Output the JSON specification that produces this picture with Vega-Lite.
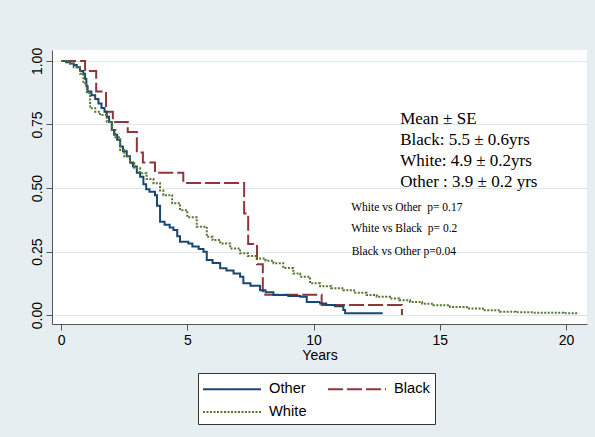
{
  "$schema": "https://vega.github.io/schema/vega-lite/v6.json",
  "width": 535,
  "height": 274,
  "autosize": {"type": "none"},
  "padding": {"left": 52, "top": 50, "right": 8, "bottom": 113},
  "background": "#e6eef1",
  "config": {
    "view": {"fill": "white", "stroke": null},
    "font": "Liberation Sans"
  },
  "layer": [
    {
      "data": {
        "values": [
          {"group": "Black", "t": 0, "s": 1.0},
          {"group": "Black", "t": 0.95, "s": 0.96},
          {"group": "Black", "t": 1.39, "s": 0.88},
          {"group": "Black", "t": 1.78, "s": 0.8},
          {"group": "Black", "t": 2.05, "s": 0.76},
          {"group": "Black", "t": 2.64, "s": 0.72},
          {"group": "Black", "t": 3.0, "s": 0.64},
          {"group": "Black", "t": 3.24, "s": 0.6},
          {"group": "Black", "t": 3.72, "s": 0.56},
          {"group": "Black", "t": 4.84, "s": 0.52},
          {"group": "Black", "t": 7.25, "s": 0.4},
          {"group": "Black", "t": 7.41, "s": 0.28},
          {"group": "Black", "t": 7.76, "s": 0.2},
          {"group": "Black", "t": 7.99, "s": 0.08},
          {"group": "Black", "t": 10.32, "s": 0.04},
          {"group": "Black", "t": 13.5, "s": 0.0},

          {"group": "Other", "t": 0, "s": 1.0},
          {"group": "Other", "t": 0.2, "s": 0.995},
          {"group": "Other", "t": 0.35, "s": 0.99},
          {"group": "Other", "t": 0.5, "s": 0.984},
          {"group": "Other", "t": 0.62, "s": 0.975},
          {"group": "Other", "t": 0.75, "s": 0.96},
          {"group": "Other", "t": 0.88, "s": 0.95},
          {"group": "Other", "t": 0.95, "s": 0.93},
          {"group": "Other", "t": 1.0, "s": 0.9},
          {"group": "Other", "t": 1.05, "s": 0.88},
          {"group": "Other", "t": 1.2, "s": 0.865},
          {"group": "Other", "t": 1.35, "s": 0.85},
          {"group": "Other", "t": 1.48, "s": 0.833},
          {"group": "Other", "t": 1.6, "s": 0.815},
          {"group": "Other", "t": 1.72, "s": 0.8},
          {"group": "Other", "t": 1.81, "s": 0.78},
          {"group": "Other", "t": 1.9, "s": 0.76},
          {"group": "Other", "t": 2.01, "s": 0.728},
          {"group": "Other", "t": 2.1, "s": 0.71},
          {"group": "Other", "t": 2.22, "s": 0.69},
          {"group": "Other", "t": 2.34, "s": 0.663},
          {"group": "Other", "t": 2.45, "s": 0.645},
          {"group": "Other", "t": 2.6, "s": 0.625},
          {"group": "Other", "t": 2.73, "s": 0.6},
          {"group": "Other", "t": 2.85, "s": 0.585},
          {"group": "Other", "t": 3.0, "s": 0.56},
          {"group": "Other", "t": 3.13, "s": 0.544},
          {"group": "Other", "t": 3.26, "s": 0.515},
          {"group": "Other", "t": 3.37, "s": 0.495},
          {"group": "Other", "t": 3.5, "s": 0.485},
          {"group": "Other", "t": 3.72, "s": 0.472},
          {"group": "Other", "t": 3.8, "s": 0.43},
          {"group": "Other", "t": 3.92, "s": 0.367},
          {"group": "Other", "t": 4.1, "s": 0.355},
          {"group": "Other", "t": 4.3, "s": 0.345},
          {"group": "Other", "t": 4.45, "s": 0.335},
          {"group": "Other", "t": 4.6, "s": 0.31},
          {"group": "Other", "t": 4.71, "s": 0.289},
          {"group": "Other", "t": 5.04, "s": 0.282},
          {"group": "Other", "t": 5.2, "s": 0.27},
          {"group": "Other", "t": 5.45, "s": 0.26},
          {"group": "Other", "t": 5.64, "s": 0.249},
          {"group": "Other", "t": 5.77, "s": 0.217},
          {"group": "Other", "t": 6.0, "s": 0.205},
          {"group": "Other", "t": 6.3, "s": 0.184},
          {"group": "Other", "t": 6.55, "s": 0.175},
          {"group": "Other", "t": 6.83, "s": 0.164},
          {"group": "Other", "t": 7.09, "s": 0.151},
          {"group": "Other", "t": 7.22, "s": 0.125},
          {"group": "Other", "t": 7.5, "s": 0.115},
          {"group": "Other", "t": 7.88, "s": 0.098},
          {"group": "Other", "t": 8.1, "s": 0.09},
          {"group": "Other", "t": 8.41, "s": 0.079},
          {"group": "Other", "t": 9.0, "s": 0.075},
          {"group": "Other", "t": 9.47, "s": 0.072},
          {"group": "Other", "t": 9.73, "s": 0.052},
          {"group": "Other", "t": 10.26, "s": 0.046},
          {"group": "Other", "t": 10.5, "s": 0.04},
          {"group": "Other", "t": 10.85, "s": 0.035},
          {"group": "Other", "t": 11.18, "s": 0.02},
          {"group": "Other", "t": 11.25, "s": 0.007},
          {"group": "Other", "t": 12.74, "s": 0.007},

          {"group": "White", "t": 0, "s": 1.0},
          {"group": "White", "t": 0.3, "s": 0.99},
          {"group": "White", "t": 0.5, "s": 0.975},
          {"group": "White", "t": 0.75, "s": 0.95},
          {"group": "White", "t": 0.88, "s": 0.912},
          {"group": "White", "t": 1.02, "s": 0.873},
          {"group": "White", "t": 1.15, "s": 0.814},
          {"group": "White", "t": 1.35, "s": 0.8},
          {"group": "White", "t": 1.54, "s": 0.787},
          {"group": "White", "t": 1.81, "s": 0.761},
          {"group": "White", "t": 2.01, "s": 0.728},
          {"group": "White", "t": 2.15, "s": 0.7},
          {"group": "White", "t": 2.34, "s": 0.65},
          {"group": "White", "t": 2.5, "s": 0.625},
          {"group": "White", "t": 2.73, "s": 0.597},
          {"group": "White", "t": 2.9, "s": 0.578},
          {"group": "White", "t": 3.13, "s": 0.558},
          {"group": "White", "t": 3.39, "s": 0.535},
          {"group": "White", "t": 3.66, "s": 0.519},
          {"group": "White", "t": 3.92, "s": 0.49},
          {"group": "White", "t": 4.05, "s": 0.472},
          {"group": "White", "t": 4.4, "s": 0.44},
          {"group": "White", "t": 4.71, "s": 0.413},
          {"group": "White", "t": 5.0, "s": 0.385},
          {"group": "White", "t": 5.37, "s": 0.348},
          {"group": "White", "t": 5.77, "s": 0.308},
          {"group": "White", "t": 6.0, "s": 0.295},
          {"group": "White", "t": 6.3, "s": 0.282},
          {"group": "White", "t": 6.7, "s": 0.262},
          {"group": "White", "t": 7.09, "s": 0.243},
          {"group": "White", "t": 7.4, "s": 0.233},
          {"group": "White", "t": 7.75, "s": 0.223},
          {"group": "White", "t": 8.1, "s": 0.214},
          {"group": "White", "t": 8.41, "s": 0.204},
          {"group": "White", "t": 8.8, "s": 0.185},
          {"group": "White", "t": 9.2, "s": 0.164},
          {"group": "White", "t": 9.47, "s": 0.151},
          {"group": "White", "t": 9.86, "s": 0.125},
          {"group": "White", "t": 10.26, "s": 0.114},
          {"group": "White", "t": 10.7, "s": 0.106},
          {"group": "White", "t": 11.18, "s": 0.098},
          {"group": "White", "t": 11.6, "s": 0.088},
          {"group": "White", "t": 12.1, "s": 0.079},
          {"group": "White", "t": 12.5, "s": 0.072},
          {"group": "White", "t": 13.03, "s": 0.065},
          {"group": "White", "t": 13.4, "s": 0.058},
          {"group": "White", "t": 13.82, "s": 0.052},
          {"group": "White", "t": 14.3, "s": 0.045},
          {"group": "White", "t": 14.75, "s": 0.039},
          {"group": "White", "t": 15.4, "s": 0.032},
          {"group": "White", "t": 16.07, "s": 0.026},
          {"group": "White", "t": 16.7, "s": 0.019},
          {"group": "White", "t": 17.39, "s": 0.013},
          {"group": "White", "t": 18.0, "s": 0.011},
          {"group": "White", "t": 18.7, "s": 0.009},
          {"group": "White", "t": 19.9, "s": 0.007},
          {"group": "White", "t": 20.4, "s": 0.003}
        ]
      },
      "mark": {"type": "line", "interpolate": "step-after", "strokeWidth": 2},
      "encoding": {
        "x": {
          "field": "t",
          "type": "quantitative",
          "scale": {"domain": [-0.36, 20.83], "nice": false, "zero": false},
          "axis": {
            "values": [0, 5, 10, 15, 20],
            "title": "Years",
            "titleFont": "Liberation Sans",
            "titleFontSize": 14,
            "titleFontWeight": "normal",
            "titleColor": "#000000",
            "titlePadding": 1,
            "labelFontSize": 14,
            "labelColor": "#000000",
            "labelPadding": 3,
            "tickSize": 6,
            "tickColor": "#555555",
            "domainColor": "#555555",
            "grid": false
          }
        },
        "y": {
          "field": "s",
          "type": "quantitative",
          "scale": {"domain": [-0.035, 1.043], "nice": false, "zero": false},
          "axis": {
            "values": [0, 0.25, 0.5, 0.75, 1],
            "format": ".2f",
            "title": null,
            "labelAngle": 270,
            "labelAlign": "center",
            "labelBaseline": "bottom",
            "labelFontSize": 14,
            "labelColor": "#000000",
            "labelPadding": 2,
            "tickSize": 6,
            "tickColor": "#555555",
            "domainColor": "#555555",
            "grid": true,
            "gridColor": "#dde7ec",
            "gridWidth": 1
          }
        },
        "color": {
          "field": "group",
          "type": "nominal",
          "scale": {"domain": ["Other", "Black", "White"], "range": ["#1a476f", "#90353b", "#55752f"]},
          "legend": {
            "title": null,
            "orient": "none",
            "direction": "horizontal",
            "legendX": 146,
            "legendY": 323,
            "columns": 2,
            "columnPadding": 16,
            "rowPadding": 5,
            "padding": 5,
            "fillColor": "white",
            "strokeColor": "#333333",
            "symbolType": "M-3,0L3,0",
            "symbolSize": 374,
            "symbolOffset": 18,
            "symbolStrokeWidth": 2,
            "labelFontSize": 14.7,
            "labelColor": "#000000",
            "labelOffset": 26
          }
        },
        "strokeDash": {
          "field": "group",
          "type": "nominal",
          "scale": {"domain": ["Other", "Black", "White"], "range": [[1, 0], [15, 4], [2, 1.5]]},
          "legend": {
            "title": null,
            "orient": "none",
            "direction": "horizontal",
            "legendX": 146,
            "legendY": 323,
            "columns": 2,
            "columnPadding": 16,
            "rowPadding": 5,
            "padding": 5,
            "fillColor": "white",
            "strokeColor": "#333333",
            "symbolType": "M-3,0L3,0",
            "symbolSize": 374,
            "symbolOffset": 18,
            "symbolStrokeWidth": 2,
            "labelFontSize": 14.7,
            "labelColor": "#000000",
            "labelOffset": 26
          }
        }
      }
    },
    {
      "data": {
        "values": [
          {"label": "Mean ± SE", "t": 13.43, "s": 0.752},
          {"label": "Black: 5.5 ± 0.6yrs", "t": 13.43, "s": 0.669},
          {"label": "White: 4.9 ± 0.2yrs", "t": 13.43, "s": 0.587},
          {"label": "Other : 3.9 ± 0.2 yrs", "t": 13.43, "s": 0.504}
        ]
      },
      "mark": {"type": "text", "align": "left", "baseline": "alphabetic", "font": "Liberation Serif", "fontSize": 17, "color": "#000000"},
      "encoding": {
        "x": {"field": "t", "type": "quantitative"},
        "y": {"field": "s", "type": "quantitative"},
        "text": {"field": "label"}
      }
    },
    {
      "data": {
        "values": [
          {"label": "White vs Other\u00a0 p= 0.17", "t": 11.49, "s": 0.409},
          {"label": "White vs Black\u00a0 p= 0.2", "t": 11.49, "s": 0.327},
          {"label": "Black vs Other p=0.04", "t": 11.51, "s": 0.236}
        ]
      },
      "mark": {"type": "text", "align": "left", "baseline": "alphabetic", "font": "Liberation Serif", "fontSize": 11.5, "color": "#000000"},
      "encoding": {
        "x": {"field": "t", "type": "quantitative"},
        "y": {"field": "s", "type": "quantitative"},
        "text": {"field": "label"}
      }
    }
  ]
}
